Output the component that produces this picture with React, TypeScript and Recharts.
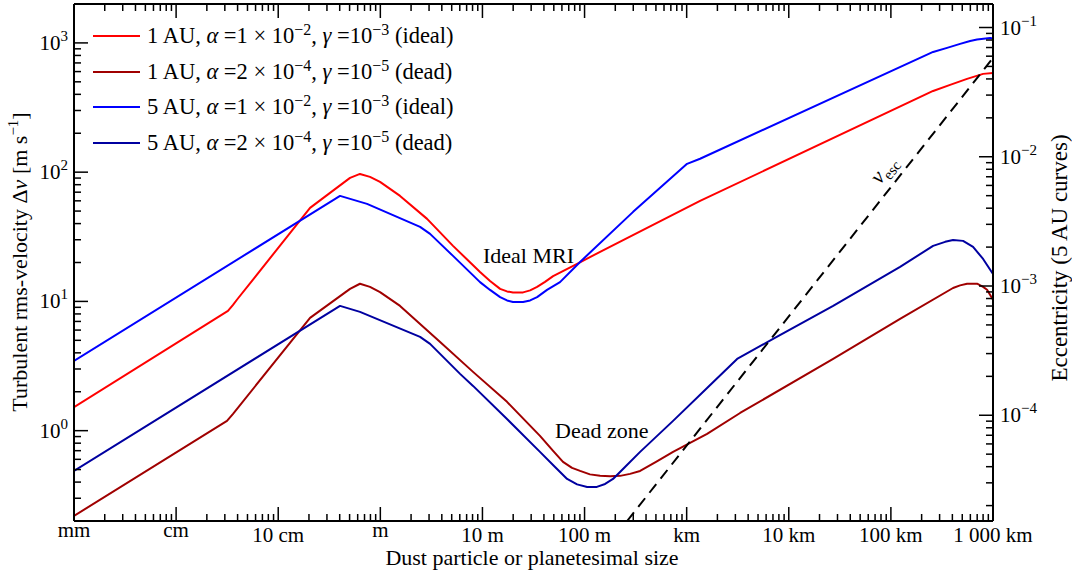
import React from 'react';
import { LineChart, Line, XAxis, YAxis, Legend } from 'recharts';

// ---------- axis ranges ----------
const sizeDomain: [number, number] = [1e-3, 1e6]; // m
const velDomain: [number, number] = [0.2, 2000]; // m/s
const eccDomain: [number, number] = [1.52e-5, 0.152];

// ---------- tick labels ----------
const xMajorTicks = [1e-3, 1e-2, 1e-1, 1, 10, 100, 1e3, 1e4, 1e5, 1e6];
const xTickLabels = ['mm', 'cm', '10 cm', 'm', '10 m', '100 m', 'km', '10 km', '100 km', '1 000 km'];
const velMajorTicks = [1, 10, 100, 1000];
const velTickExps = ['0', '1', '2', '3'];
const eccMajorTicks = [1e-4, 1e-3, 1e-2, 1e-1];
const eccTickExps = ['\u22124', '\u22123', '\u22122', '\u22121'];

// ---------- series (size in m, velocity in m/s) ----------
const au1IdealSize = [0.001, 0.0322, 0.0361, 0.0394, 0.205, 0.3216, 0.505, 0.632, 0.792, 0.993, 1.56, 2.87, 5.15, 9.47, 11.87, 14.9, 17.4, 19.9, 25.0, 29.3, 34.3, 41.0, 49.2, 84.5, 142, 1353, 2.59e5, 3.8e5, 5.57e5, 8.0e5, 1e6];
const au1IdealVel = [1.52, 8.44, 9.4, 10.3, 52.9, 69.1, 90.3, 96.9, 91.9, 84.1, 65.5, 43.5, 26.9, 16.9, 14.4, 12.5, 11.95, 11.74, 11.74, 12.17, 12.95, 14.15, 15.7, 19.5, 24.2, 59.9, 425, 473, 527, 576, 586];

const au1DeadSize = [0.001, 0.0315, 0.0361, 0.205, 0.505, 0.632, 0.792, 0.993, 1.56, 3.85, 8.09, 17.4, 36.6, 49.2, 61.5, 75.4, 90.4, 113, 142, 178, 223, 279, 350, 501, 736, 1585, 3337, 2.72e4, 1.23e5, 4.06e5, 4.76e5, 5.57e5, 6.98e5, 8.0e5, 8.75e5, 1e6];
const au1DeadVel = [0.219, 1.19, 1.35, 7.45, 12.5, 13.7, 12.95, 11.8, 9.23, 4.86, 2.85, 1.67, 0.911, 0.697, 0.573, 0.515, 0.488, 0.459, 0.447, 0.443, 0.447, 0.463, 0.488, 0.573, 0.685, 0.944, 1.37, 3.59, 7.32, 12.7, 13.3, 13.7, 13.7, 12.95, 12.3, 10.3];

const au5IdealSize = [0.001, 0.403, 0.741, 2.45, 3.07, 5.15, 9.47, 11.87, 14.9, 17.4, 19.9, 25.0, 29.3, 34.3, 42.9, 57.5, 90.4, 299, 1009, 1353, 2.59e5, 3.55e5, 4.76e5, 5.97e5, 6.98e5, 9.37e5, 1e6];
const au5IdealVel = [3.47, 65.5, 56.8, 37.7, 33.3, 22.5, 14.1, 12.27, 10.8, 10.18, 9.91, 9.91, 10.18, 10.8, 12.27, 14.1, 20.2, 49.3, 116, 127, 851, 915, 983, 1036, 1064, 1093, 1083];

const au5DeadSize = [0.001, 0.403, 0.632, 2.45, 3.07, 6.04, 8.09, 17.4, 36.6, 51.4, 67.5, 84.5, 106, 132, 159, 190, 249, 350, 736, 1585, 3119, 7020, 2.72e4, 1.23e5, 2.59e5, 3.4e5, 4.06e5, 5.09e5, 6.38e5, 8.0e5, 1e6];
const au5DeadVel = [0.488, 9.23, 8.3, 5.31, 4.69, 2.75, 2.22, 1.23, 0.685, 0.524, 0.423, 0.384, 0.367, 0.367, 0.387, 0.423, 0.524, 0.685, 1.19, 2.14, 3.59, 5.13, 9.23, 18.5, 26.9, 28.9, 29.9, 29.4, 26.4, 21.3, 16.3];

const vescSize = [261, 1e6];
const vescVel = [0.2, 766];

// ---------- legend texts ----------
const seriesNames = ['au1ideal', 'au1dead', 'au5ideal', 'au5dead'];
const seriesColors = ['#ff0000', '#a00000', '#0000ff', '#0000a0'];
const legendAU = ['1 AU', '1 AU', '5 AU', '5 AU'];
const legendAlphaMant = ['1', '2', '1', '2'];
const legendAlphaExp = ['\u22122', '\u22124', '\u22122', '\u22124'];
const legendGammaExp = ['\u22123', '\u22125', '\u22123', '\u22125'];
const legendRegime = ['ideal', 'dead', 'ideal', 'dead'];

const FONT = '"Liberation Serif", "Times New Roman", serif';

const zip = (s: number[], v: number[]) => s.map((x, i) => ({ size: x, v: v[i] }));
const seriesData = [
  zip(au1IdealSize, au1IdealVel),
  zip(au1DeadSize, au1DeadVel),
  zip(au5IdealSize, au5IdealVel),
  zip(au5DeadSize, au5DeadVel),
];
const vescData = zip(vescSize, vescVel);

function logTicks(min: number, max: number) {
  const out: number[] = [];
  for (let d = Math.floor(Math.log10(min)); d <= Math.ceil(Math.log10(max)); d++) {
    for (let m = 1; m <= 9; m++) {
      const v = Number((m * Math.pow(10, d)).toPrecision(6));
      if (v >= min * 0.9999 && v <= max * 1.0001) out.push(v);
    }
  }
  return out;
}
const isMajor = (v: number) => Math.abs(Math.log10(v) - Math.round(Math.log10(v))) < 1e-6;
const findIdx = (arr: number[], v: number) => arr.findIndex((t) => Math.abs(Math.log10(t) - Math.log10(v)) < 1e-6);

const xTicksAll = logTicks(sizeDomain[0], sizeDomain[1]);
const velTicksAll = logTicks(velDomain[0], velDomain[1]);
const eccTicksAll = logTicks(eccDomain[0], eccDomain[1]);

const MAJ = 14;
const MIN = 7;

function BottomTick(props: any) {
  const { x, y, payload } = props;
  const v = payload.value;
  const major = isMajor(v);
  const idx = findIdx(xMajorTicks, v);
  const label = idx >= 0 ? xTickLabels[idx] : '';
  const low = /[0-9k]/.test(label);
  return (
    <g>
      <line x1={x} x2={x} y1={y} y2={y - (major ? MAJ : MIN)} stroke="#000" strokeWidth={1.5} />
      {label && (
        <text x={x} y={y + (low ? 21 : 16)} textAnchor="middle" fontFamily={FONT} fontSize={21} fill="#000">
          {label}
        </text>
      )}
    </g>
  );
}
function TopTick(props: any) {
  const { x, y, payload } = props;
  const major = isMajor(payload.value);
  return <line x1={x} x2={x} y1={y} y2={y + (major ? MAJ : MIN)} stroke="#000" strokeWidth={1.5} />;
}
function LeftTick(props: any) {
  const { x, y, payload } = props;
  const v = payload.value;
  const major = isMajor(v);
  const idx = findIdx(velMajorTicks, v);
  return (
    <g>
      <line x1={x} x2={x + (major ? MAJ : MIN)} y1={y} y2={y} stroke="#000" strokeWidth={1.5} />
      {idx >= 0 && (
        <text x={x - 6} y={y + 7} textAnchor="end" fontFamily={FONT} fontSize={21} fill="#000">
          10<tspan dy={-9} fontSize={15}>{velTickExps[idx]}</tspan>
        </text>
      )}
    </g>
  );
}
function RightTick(props: any) {
  const { x, y, payload } = props;
  const v = payload.value;
  const major = isMajor(v);
  const idx = findIdx(eccMajorTicks, v);
  return (
    <g>
      <line x1={x} x2={x - (major ? MAJ : MIN)} y1={y} y2={y} stroke="#000" strokeWidth={1.5} />
      {idx >= 0 && (
        <text x={x + 7} y={y + 7} textAnchor="start" fontFamily={FONT} fontSize={21} fill="#000">
          10<tspan dy={-9} fontSize={15}>{eccTickExps[idx]}</tspan>
        </text>
      )}
    </g>
  );
}

function renderLegend(props: any) {
  const payload = (props.payload || []).filter((p: any) => seriesNames.includes(p.value));
  return (
    <div style={{ position: 'relative', width: 470, height: 160 }}>
      {payload.map((p: any) => {
        const i = seriesNames.indexOf(p.value);
        const sup = { fontSize: 16, verticalAlign: '0.5em', lineHeight: 0 } as React.CSSProperties;
        return (
          <div
            key={p.value}
            style={{
              position: 'absolute',
              left: 93,
              top: 36 + i * 35.5 - 14,
              height: 28,
              display: 'flex',
              alignItems: 'center',
              whiteSpace: 'nowrap',
              fontFamily: FONT,
              fontSize: 22.5,
              color: '#000',
            }}
          >
            <svg width={47} height={4} style={{ display: 'block' }}>
              <line x1={0} x2={47} y1={2} y2={2} stroke={p.color} strokeWidth={2} />
            </svg>
            <span style={{ marginLeft: 7, lineHeight: '28px' }}>
              {legendAU[i]}, <i>α</i> ={legendAlphaMant[i]} × 10<span style={sup}>{legendAlphaExp[i]}</span>,{' '}
              <i>γ</i> =10<span style={sup}>{legendGammaExp[i]}</span> ({legendRegime[i]})
            </span>
          </div>
        );
      })}
    </div>
  );
}

export default function App() {
  return (
    <div style={{ position: 'absolute', left: 0, top: 0, width: 1072, height: 571, background: '#fff' }}>
      <LineChart width={1072} height={571} margin={{ top: 3, right: 78, bottom: 49, left: 73 }}>
        <XAxis
          xAxisId="x"
          dataKey="size"
          type="number"
          scale="log"
          domain={sizeDomain}
          allowDataOverflow
          ticks={xTicksAll}
          interval={0}
          height={1}
          tickSize={0}
          tickMargin={0}
          tickLine={false}
          tick={<BottomTick />}
          axisLine={{ stroke: '#000', strokeWidth: 2 }}
        />
        <XAxis
          xAxisId="top"
          orientation="top"
          dataKey="size"
          type="number"
          scale="log"
          domain={sizeDomain}
          allowDataOverflow
          ticks={xTicksAll}
          interval={0}
          height={1}
          tickSize={0}
          tickMargin={0}
          tickLine={false}
          tick={<TopTick />}
          axisLine={{ stroke: '#000', strokeWidth: 2 }}
        />
        <YAxis
          yAxisId="v"
          type="number"
          scale="log"
          domain={velDomain}
          allowDataOverflow
          ticks={velTicksAll}
          interval={0}
          width={1}
          tickSize={0}
          tickMargin={0}
          tickLine={false}
          tick={<LeftTick />}
          axisLine={{ stroke: '#000', strokeWidth: 2 }}
        />
        <YAxis
          yAxisId="ecc"
          orientation="right"
          type="number"
          scale="log"
          domain={eccDomain}
          allowDataOverflow
          ticks={eccTicksAll}
          interval={0}
          width={1}
          tickSize={0}
          tickMargin={0}
          tickLine={false}
          tick={<RightTick />}
          axisLine={{ stroke: '#000', strokeWidth: 2 }}
        />
        <Legend
          layout="vertical"
          align="center"
          verticalAlign="middle"
          wrapperStyle={{ left: 0, top: 0, width: 470, height: 160 }}
          content={renderLegend}
        />
        {seriesData.map((d, i) => (
          <Line
            key={seriesNames[i]}
            name={seriesNames[i]}
            data={d}
            dataKey="v"
            xAxisId="x"
            yAxisId="v"
            type="linear"
            stroke={seriesColors[i]}
            strokeWidth={2}
            strokeLinejoin="round"
            dot={false}
            activeDot={false}
            isAnimationActive={false}
          />
        ))}
        <Line
          name="vesc"
          data={vescData}
          dataKey="v"
          xAxisId="x"
          yAxisId="v"
          type="linear"
          stroke="#000"
          strokeWidth={2}
          strokeDasharray="11 7"
          dot={false}
          activeDot={false}
          legendType="none"
          isAnimationActive={false}
        />
        <g fontFamily={FONT} fill="#000">
          <text x={483} y={263} fontSize={22}>Ideal MRI</text>
          <text x={555} y={438} fontSize={22}>Dead zone</text>
          <text transform="translate(889,174) rotate(-51.7)" textAnchor="middle" fontSize={22}>
            <tspan fontStyle="italic">v</tspan>
            <tspan fontSize={15} dy={5}>esc</tspan>
          </text>
          <text transform="translate(27,262) rotate(-90)" textAnchor="middle" fontSize={22}>
            Turbulent rms-velocity Δ<tspan fontStyle="italic">v</tspan> [m s<tspan dy={-9} fontSize={15}>−1</tspan>
            <tspan dy={9}>]</tspan>
          </text>
          <text transform="translate(1067,258) rotate(-90)" textAnchor="middle" fontSize={23}>
            Eccentricity (5 AU curves)
          </text>
          <text x={532} y={565} textAnchor="middle" fontSize={22}>
            Dust particle or planetesimal size
          </text>
        </g>
      </LineChart>
    </div>
  );
}
